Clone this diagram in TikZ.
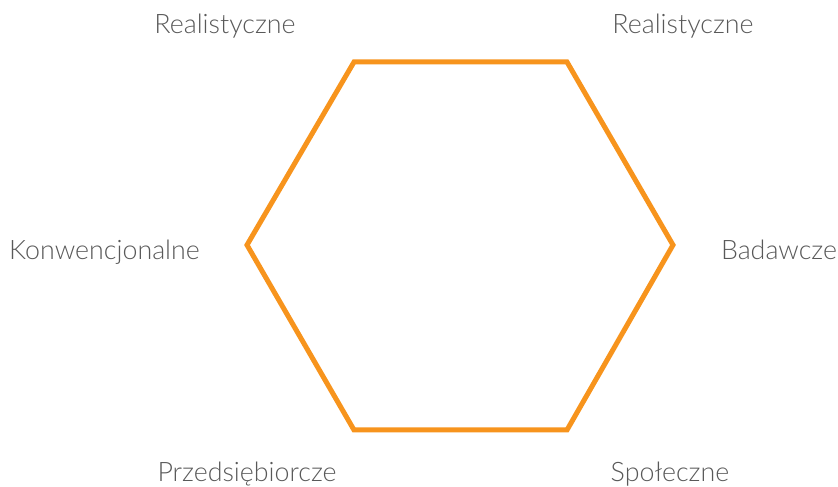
\documentclass[tikz,border=0pt]{standalone}
\usepackage{fontspec}
\setmainfont{Lato Light}
\usepackage{tikz}
\definecolor{hexOrange}{HTML}{F7941D}
\definecolor{labelGray}{HTML}{595959}

\begin{document}
\begin{tikzpicture}[x=1pt,y=1pt,
  type/.style={text=labelGray,font=\fontsize{26.8}{30}\selectfont,inner sep=0pt,anchor=base}]
  \useasboundingbox (0,0) rectangle (838,487);
  % Hexagon corners
  \coordinate (tl) at (354,425);
  \coordinate (tr) at (567,425);
  \coordinate (r)  at (673,242);
  \coordinate (br) at (567,57);
  \coordinate (bl) at (354,57);
  \coordinate (l)  at (247,242);
  \draw[hexOrange,line width=5pt,line join=miter] (tl) -- (tr) -- (r) -- (br) -- (bl) -- (l) -- cycle;

  % Labels
  \node[type] (real1) at (225,453) {Realistyczne};
  \node[type] (real2) at (683,453) {Realistyczne};
  \node[type] (konw)  at (104.5,227) {Konwencjonalne};
  \node[type] (bad)   at (779,227) {Badawcze};
  \node[type] (przed) at (247,5) {Przedsiębiorcze};
  \node[type] (spol)  at (670,5) {Społeczne};
\end{tikzpicture}
\end{document}
